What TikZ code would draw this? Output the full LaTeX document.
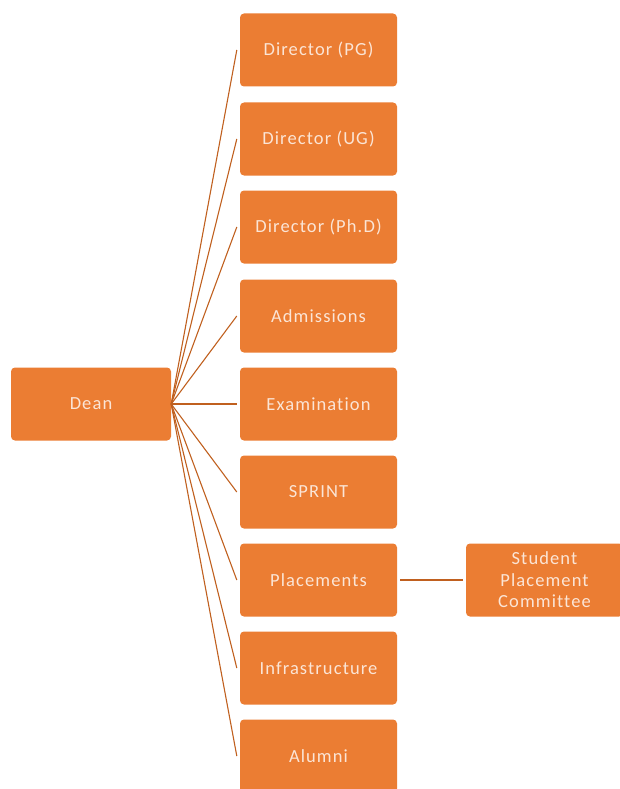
\documentclass[tikz,border=0pt]{standalone}
\usepackage{fontspec}
\setmainfont[LetterSpace=6,Ligatures=CommonOff]{Carlito}
\definecolor{boxfill}{HTML}{EB7D33}
\definecolor{boxtext}{HTML}{FBE5D6}
\definecolor{linkcol}{HTML}{C0601F}
\begin{document}
\begin{tikzpicture}[x=1pt,y=-1pt,
  unit/.style={rectangle, rounded corners=4pt, fill=boxfill, text=boxtext,
    minimum width=157pt, minimum height=73pt, inner sep=0pt,
    font=\fontsize{18.5}{21.5}\selectfont, align=center},
  link/.style={draw=linkcol, line width=1.1pt}]
\useasboundingbox (0,0) rectangle (620,789);
\node[unit, minimum width=160pt] (dean) at (91,404) {Dean};
\node[unit] (pg) at (318.5,50) {Director (PG)};
\node[unit] (ug) at (318.5,139) {Director (UG)};
\node[unit] (phd) at (318.5,227) {Director (Ph.D)};
\node[unit] (adm) at (318.5,316) {Admissions};
\node[unit] (exam) at (318.5,404) {Examination};
\node[unit] (sprint) at (318.5,492) {SPRINT};
\node[unit] (plac) at (318.5,580) {Placements};
\node[unit] (infra) at (318.5,668) {Infrastructure};
\node[unit] (alum) at (318.5,756) {Alumni};
\node[unit, text width=150pt] (spc) at (544.5,580) {Student\\Placement\\Committee};
\foreach \n in {pg,ug,phd,adm,exam,sprint,plac,infra,alum}
  \draw[link] (dean.east) -- ([xshift=-3pt]\n.west);
\draw[link] ([xshift=3pt]plac.east) -- ([xshift=-3pt]spc.west);
\end{tikzpicture}
\end{document}
